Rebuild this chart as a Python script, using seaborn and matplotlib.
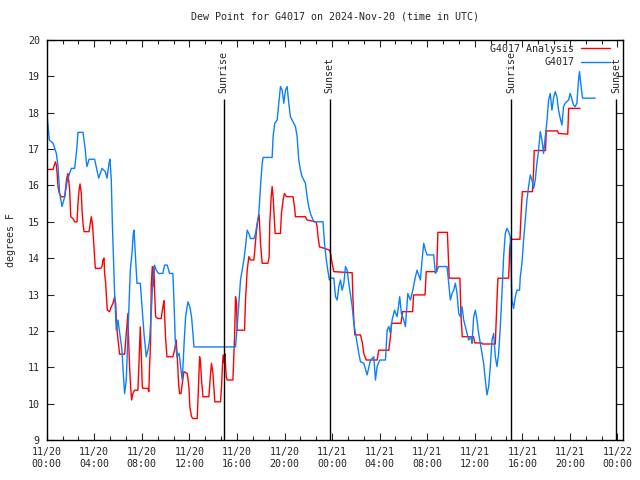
import datetime as dt

import numpy as np
import pandas as pd
import matplotlib
matplotlib.use('Agg')
import matplotlib.pyplot as plt
import seaborn as sns
from matplotlib.ticker import MultipleLocator, FuncFormatter

sns.set_style('ticks')
plt.rcParams['font.family'] = ['DejaVu Sans Mono', 'DejaVu Sans']

# hours after 2024-11-20 00:00 UTC, dew point in F
obs_hours = [0.06, 0.22, 0.53, 0.81, 0.95, 1.09, 1.29, 1.51, 1.74, 2.07, 2.35, 2.52, 2.63, 3.05,
             3.25, 3.33, 3.39, 3.56, 4.03, 4.23, 4.37, 4.65, 4.93, 5.07, 5.24, 5.32, 5.43, 5.52,
             5.63, 5.71, 5.85, 5.99, 6.22, 6.33, 6.44, 6.55, 6.69, 6.89, 7.03, 7.17, 7.28, 7.34,
             7.45, 7.59, 7.87, 8.06, 8.18, 8.37, 8.51, 8.65, 8.79, 8.93, 9.07, 9.21, 9.41, 9.77,
             9.91, 10.14, 10.33, 10.61, 10.70, 10.81, 10.95, 11.14, 11.26, 11.40, 11.54, 11.68,
             11.88, 12.04, 12.18, 12.30, 12.38, 15.88, 16.02, 16.16, 16.30, 16.44, 16.58, 16.72,
             16.86, 17.00, 17.14, 17.42, 17.56, 17.70, 17.84, 17.98, 18.12, 18.20, 18.96, 19.04,
             19.18, 19.38, 19.52, 19.66, 19.80, 19.94, 20.08, 20.22, 20.36, 20.50, 20.78, 20.92,
             21.06, 21.20, 21.34, 21.48, 21.76, 21.90, 22.04, 22.18, 22.46, 23.24, 23.36, 23.52,
             23.64, 23.78, 23.81, 24.15, 24.29, 24.43, 24.57, 24.71, 24.85, 24.99, 25.13, 25.27,
             25.41, 25.69, 25.83, 25.97, 26.11, 26.25, 26.39, 26.67, 26.95, 27.23, 27.51, 27.65,
             27.79, 28.01, 28.49, 28.63, 28.77, 28.91, 29.05, 29.25, 29.47, 29.69, 29.83, 30.03,
             30.17, 30.37, 30.59, 30.79, 31.01, 31.15, 31.43, 31.57, 31.71, 31.85, 31.99, 32.55,
             32.69, 32.83, 32.97, 33.67, 33.81, 33.95, 34.09, 34.23, 34.37, 34.51, 34.65, 34.79,
             34.93, 35.07, 35.21, 35.35, 35.49, 35.69, 35.77, 35.91, 36.05, 36.19, 36.33, 36.47,
             36.61, 36.75, 36.89, 37.03, 37.17, 37.31, 37.45, 37.59, 37.73, 37.87, 38.01, 38.15,
             38.29, 38.43, 38.57, 38.71, 38.85, 38.99, 39.13, 39.27, 39.41, 39.55, 39.77, 39.83,
             39.97, 40.11, 40.25, 40.39, 40.53, 40.67, 40.81, 40.95, 41.09, 41.23, 41.37, 41.51,
             41.65, 41.79, 41.93, 42.07, 42.21, 42.35, 42.49, 42.63, 42.77, 42.91, 43.05, 43.19,
             43.33, 43.47, 43.61, 43.89, 44.03, 44.31, 44.45, 44.59, 44.73, 44.81, 44.93, 45.07,
             46.13]
obs_dewpt = [17.82, 17.25, 17.16, 16.88, 16.52, 15.78, 15.42, 15.69, 16.15, 16.47, 16.47, 16.97,
             17.46, 17.46, 16.97, 16.65, 16.52, 16.72, 16.72, 16.42, 16.20, 16.47, 16.38, 16.20,
             16.61, 16.72, 16.15, 14.96, 13.86, 13.03, 12.02, 12.30, 11.75, 11.47, 10.83, 10.28,
             10.65, 12.39, 13.67, 14.13, 14.68, 14.77, 14.13, 13.31, 13.31, 12.48, 11.93, 11.29,
             11.47, 11.75, 12.48, 13.40, 13.81, 13.67, 13.58, 13.58, 13.81, 13.81, 13.58, 13.58,
             12.85, 11.75, 11.29, 11.38, 11.01, 10.65, 11.56, 12.39, 12.80, 12.66, 12.39, 11.93,
             11.56, 11.56, 12.11, 12.76, 13.40, 13.67, 13.95, 14.31, 14.77, 14.68, 14.54, 14.54,
             14.68, 14.96, 15.23, 15.97, 16.61, 16.77, 16.77, 17.34, 17.71, 17.80, 18.26, 18.72,
             18.62, 18.26, 18.62, 18.72, 18.26, 17.89, 17.71, 17.62, 17.34, 16.70, 16.42, 16.24,
             16.06, 15.69, 15.41, 15.23, 15.00, 15.00, 14.41, 13.95, 13.67, 13.40, 13.45, 13.45,
             12.94, 12.85, 13.22, 13.40, 13.12, 13.31, 13.77, 13.67, 13.31, 12.67, 12.21, 11.93,
             11.66, 11.38, 11.15, 11.11, 10.79, 11.20, 11.29, 10.65, 11.02, 11.20, 11.20, 12.02,
             12.12, 11.93, 12.30, 12.57, 12.39, 12.94, 12.48, 12.30, 12.12, 13.03, 12.85, 13.12,
             13.49, 13.67, 13.40, 13.95, 14.41, 14.22, 14.09, 14.09, 13.58, 13.67, 13.77, 13.77,
             13.31, 12.85, 13.03, 13.12, 13.31, 13.03, 12.48, 12.39, 12.67, 12.30, 12.12, 11.93,
             11.75, 11.84, 11.66, 12.39, 12.57, 12.30, 11.93, 11.66, 11.38, 11.11, 10.65, 10.24,
             10.47, 11.02, 11.75, 11.93, 11.29, 11.02, 11.38, 12.12, 13.03, 14.04, 14.68, 14.82,
             14.73, 14.59, 12.85, 12.62, 12.94, 13.12, 13.12, 13.49, 13.86, 14.50, 15.05, 15.60,
             15.97, 16.29, 16.15, 15.92, 16.15, 16.61, 16.97, 17.48, 17.25, 16.88, 17.34, 17.75,
             18.35, 18.53, 18.07, 18.40, 18.58, 18.44, 18.07, 17.85, 17.66, 18.17, 18.26, 18.35,
             18.53, 18.21, 18.17, 18.26, 18.90, 19.13, 18.76, 18.40, 18.40]

ana_hours = [0.06, 0.53, 0.73, 0.81, 0.90, 0.95, 1.06, 1.23, 1.51, 1.57, 1.68, 1.79, 1.85, 1.93,
             2.02, 2.21, 2.35, 2.55, 2.63, 2.72, 2.80, 2.91, 2.97, 3.05, 3.14, 3.56, 3.67, 3.75,
             3.84, 3.95, 4.03, 4.09, 4.54, 4.65, 4.73, 4.82, 4.87, 4.96, 5.04, 5.10, 5.29, 5.43,
             5.57, 5.71, 5.80, 5.85, 5.94, 6.05, 6.13, 6.55, 6.69, 6.83, 6.89, 6.97, 7.06, 7.14,
             7.25, 7.39, 7.67, 7.76, 7.87, 7.95, 8.04, 8.09, 8.51, 8.59, 8.65, 8.74, 8.79, 8.88,
             8.93, 9.02, 9.07, 9.16, 9.35, 9.63, 9.77, 9.86, 9.91, 9.99, 10.11, 10.61, 10.75,
             10.89, 10.98, 11.09, 11.17, 11.30, 11.40, 11.54, 11.82, 11.96, 12.04, 12.18, 12.30,
             12.66, 12.72, 12.86, 12.94, 13.02, 13.14, 13.64, 13.78, 13.86, 13.98, 14.06, 14.14,
             14.62, 14.70, 14.79, 14.84, 14.93, 14.98, 15.10, 15.18, 15.66, 15.74, 15.80, 15.88,
             15.96, 16.02, 16.64, 16.72, 16.86, 17.00, 17.14, 17.42, 17.50, 17.62, 17.76, 17.87,
             17.98, 18.12, 18.60, 18.71, 18.76, 18.88, 18.96, 19.04, 19.10, 19.21, 19.66, 19.74,
             19.88, 19.99, 20.16, 20.72, 20.84, 20.92, 21.76, 21.90, 22.66, 22.74, 22.82, 22.94,
             23.36, 23.78, 23.87, 24.01, 24.15, 25.69, 25.75, 25.83, 25.91, 26.39, 26.53, 26.67,
             26.87, 27.79, 27.93, 28.77, 28.91, 29.00, 29.80, 29.93, 30.78, 30.85, 31.82, 31.92,
             32.80, 32.90, 33.70, 33.85, 34.75, 34.85, 34.95, 35.90, 36.00, 36.60, 36.65, 37.73,
             37.87, 37.95, 38.85, 38.95, 39.05, 39.80, 39.90, 40.00, 40.85, 40.95, 41.00, 41.95,
             42.02, 42.95, 43.05, 43.82, 43.90, 44.85]
ana_dewpt = [16.44, 16.44, 16.65, 16.56, 16.24, 15.97, 15.78, 15.69, 15.69, 15.87, 16.20, 16.33,
             16.15, 15.87, 15.14, 15.09, 15.00, 15.00, 15.51, 15.87, 16.04, 15.78, 15.32, 14.96,
             14.73, 14.73, 14.96, 15.14, 14.96, 14.45, 14.00, 13.72, 13.72, 13.77, 13.95, 14.00,
             13.58, 13.31, 12.85, 12.57, 12.53, 12.66, 12.76, 12.94, 12.76, 12.34, 11.93, 11.61,
             11.36, 11.36, 11.93, 12.48, 11.75, 11.01, 10.46, 10.10, 10.28, 10.37, 10.37, 11.11,
             12.11, 11.38, 10.46, 10.42, 10.42, 10.33, 11.01, 11.75, 13.22, 13.77, 13.22, 13.77,
             13.12, 12.39, 12.34, 12.34, 12.66, 12.83, 12.48, 11.84, 11.29, 11.29, 11.47, 11.75,
             11.29, 10.56, 10.28, 10.28, 10.55, 10.88, 10.83, 10.46, 9.91, 9.64, 9.59, 9.59, 10.10,
             11.29, 11.11, 10.65, 10.19, 10.19, 10.83, 11.11, 10.83, 10.46, 10.05, 10.05, 10.46,
             11.11, 11.34, 11.11, 11.38, 10.74, 10.65, 10.65, 11.29, 11.84, 12.94, 12.76, 12.02,
             12.02, 12.85, 13.67, 14.04, 13.95, 13.95, 14.22, 14.68, 15.05, 15.19, 14.41, 13.86,
             13.86, 14.04, 14.96, 15.69, 15.97, 15.69, 15.32, 14.68, 14.68, 15.23, 15.60, 15.78,
             15.69, 15.69, 15.41, 15.14, 15.14, 15.05, 15.00, 14.87, 14.59, 14.31, 14.27, 14.22,
             14.13, 13.86, 13.63, 13.60, 12.94, 12.30, 11.89, 11.89, 11.70, 11.38, 11.20, 11.20,
             11.47, 11.47, 11.84, 12.21, 12.21, 12.53, 12.53, 12.99, 12.99, 13.63, 13.63, 14.71,
             14.71, 13.45, 13.45, 12.39, 11.84, 11.84, 11.67, 11.67, 11.64, 11.64, 12.85, 13.45,
             13.45, 14.30, 14.52, 14.52, 15.23, 15.83, 15.83, 16.38, 16.96, 16.96, 17.50, 17.50,
             17.43, 17.41, 18.12, 18.12]

sun_hours = [14.87, 23.80, 39.08, 47.90]
sun_labels = ['Sunrise', 'Sunset', 'Sunrise', 'Sunset']

start = dt.datetime(2024, 11, 20)
fs = 7.2

ana = pd.DataFrame({'hours': ana_hours, 'dewpt': ana_dewpt})
obs = pd.DataFrame({'hours': obs_hours, 'dewpt': obs_dewpt})

fig = plt.figure(figsize=(6.4, 4.8), dpi=100)
ax = fig.add_axes([0.073, 0.0833, 0.901, 0.8334])

sns.lineplot(data=ana, x='hours', y='dewpt', color='#ff0000', lw=1.0, estimator=None, sort=False,
             label='G4017 Analysis', ax=ax)
sns.lineplot(data=obs, x='hours', y='dewpt', color='#0a80ff', lw=1.0, estimator=None, sort=False,
             label='G4017', ax=ax)

# sunrise / sunset markers
ax.vlines(sun_hours, 9, 18.37, color='k', lw=1.0)
for h, s in zip(sun_hours, sun_labels):
    ax.text(h, 18.55, s, rotation=90, ha='center', va='bottom', fontsize=fs)

ax.set_xlim(0, 48.5)
ax.set_ylim(9, 20)
ax.xaxis.set_major_locator(MultipleLocator(4))
ax.xaxis.set_minor_locator(MultipleLocator(4 / 3))
ax.yaxis.set_major_locator(MultipleLocator(1))
ax.xaxis.set_major_formatter(FuncFormatter(
    lambda v, p: (start + dt.timedelta(hours=v)).strftime('%m/%d\n%H:%M')))
ax.tick_params(which='both', direction='in', top=True, right=True, labelsize=fs, width=0.8)
ax.tick_params(which='major', length=5, pad=5)
ax.tick_params(which='minor', length=3)
for sp in ax.spines.values():
    sp.set_linewidth(1.0)
    sp.set_color('k')

ax.set_xlabel('')
ax.set_ylabel('degrees F', fontsize=fs)
ax.yaxis.set_label_coords(-0.053, 0.5)
ax.set_title('Dew Point for G4017 on 2024-Nov-20 (time in UTC)', fontsize=fs, pad=15)

ax.legend(loc='upper right', bbox_to_anchor=(0.984, 1.0), frameon=False, markerfirst=False,
          fontsize=fs, handlelength=2.9, handletextpad=0.7, labelspacing=0.35, borderaxespad=0.0)

fig.savefig('out.png', dpi=100)
